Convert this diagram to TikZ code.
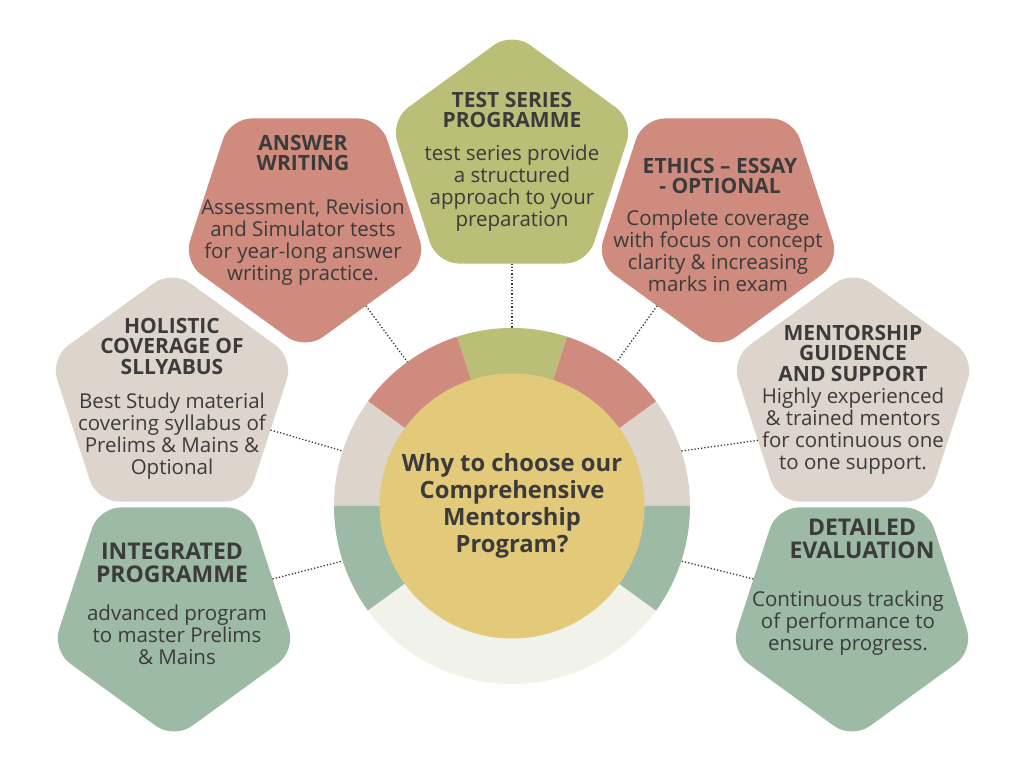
\documentclass[tikz,border=0pt]{standalone}
\usepackage{fontspec}
\setmainfont{Open Sans}
\usetikzlibrary{shapes.geometric, positioning}
\definecolor{olivec}{HTML}{BABE77}
\definecolor{rosec}{HTML}{CF8B7E}
\definecolor{sandc}{HTML}{DDD5CC}
\definecolor{sagec}{HTML}{9DBAA4}
\definecolor{palec}{HTML}{F1F2EA}
\definecolor{goldc}{HTML}{E3C97A}
\definecolor{inkc}{HTML}{3B3B3B}
\tikzstyle{pentagon} = [regular polygon, regular polygon sides=5, minimum size=256pt, inner sep=0pt, outer sep=0pt, rounded corners=22pt]
\tikzstyle{pentdown} = [pentagon, shape border rotate=180]
\tikzstyle{heading} = [text=inkc, font=\bfseries\fontsize{21}{20.5}\selectfont, align=center]
\tikzstyle{bigheading} = [text=inkc, font=\bfseries\fontsize{23}{23}\selectfont, align=center]
\tikzstyle{blurb} = [text=inkc, font=\fontsize{20.5}{22}\selectfont, align=center]
\tikzstyle{dotline} = [inkc, dotted, line width=1.3pt]

\begin{document}
\begin{tikzpicture}[x=1pt, y=1pt]
        \useasboundingbox[fill=white] (0,0) rectangle (1024,768);

        % Ring round the hub
        \coordinate (ctr) at (512,262);
        \foreach \a/\b/\c in {0/36/sandc, 36/72/rosec, 72/108/olivec, 108/144/rosec, 144/180/sandc, 180/216/sagec, 216/324/palec, 324/360/sagec}
            \fill[\c] (ctr) -- ++(\a:178pt) arc[start angle=\a, end angle=\b, radius=178pt] -- cycle;
        \foreach \a in {18,54,90,126,162,198,342}
            \path (ctr) ++(\a:178pt) coordinate (r\a);

        % Hub
        \node[circle, fill=goldc, minimum size=265pt, inner sep=0pt, text=inkc, font=\bfseries\fontsize{23.8}{27}\selectfont, align=center] (hub) at (ctr) {Why to choose our\\Comprehensive\\Mentorship\\Program?};

        % Test series
        \node[pentagon, fill=olivec] (testp) at (512,608) {};
        \node[heading] (testt) at (512,658) {TEST SERIES\\PROGRAMME};
        \node[blurb] (testb) at (512,580) {test series provide\\a structured\\approach to your\\preparation};

        % Answer writing
        \node[pentdown, fill=rosec] (answerp) at (305,546) {};
        \node[heading] (answert) at (303,615) {ANSWER\\WRITING};
        \node[blurb] (answerb) at (303,526) {Assessment, Revision\\and Simulator tests\\for year-long answer\\writing practice.};

        % Ethics
        \node[pentdown, fill=rosec] (ethicsp) at (718,546) {};
        \node[heading] (ethicst) at (720,592) {ETHICS -- ESSAY\\- OPTIONAL};
        \node[blurb] (ethicsb) at (718,517) {Complete coverage\\with focus on concept\\clarity \& increasing\\marks in exam};

        % Holistic
        \node[pentagon, fill=sandc] (holisticp) at (172,370) {};
        \node[heading] (holistict) at (172,422) {HOLISTIC\\COVERAGE OF\\SLLYABUS};
        \node[blurb] (holisticb) at (172,332) {Best Study material\\covering syllabus of\\Prelims \& Mains \&\\Optional};

        % Mentorship
        \node[pentagon, fill=sandc] (mentorp) at (853,370) {};
        \node[heading] (mentort) at (853,415) {MENTORSHIP\\GUIDENCE\\AND SUPPORT};
        \node[blurb] (mentorb) at (853,337) {Highly experienced\\\& trained mentors\\for continuous one\\to one support.};

        % Integrated
        \node[pentdown, fill=sagec] (integp) at (174,157) {};
        \node[bigheading] (integt) at (172,205) {INTEGRATED\\PROGRAMME};
        \node[blurb] (integb) at (177,133) {advanced program\\to master Prelims\\\& Mains};

        % Detailed evaluation
        \node[pentdown, fill=sagec] (detailp) at (852,157) {};
        \node[bigheading] (detailt) at (862,229) {DETAILED\\EVALUATION};
        \node[blurb] (detailb) at (848,145) {Continuous tracking\\of performance to\\ensure progress.};

        % Dotted links
        \draw[dotline] (testp.south) -- (r90);
        \draw[dotline] (answerp.-54) -- (r126);
        \draw[dotline] (ethicsp.234) -- (r54);
        \draw[dotline] (holisticp.-18) -- (r162);
        \draw[dotline] (mentorp.204) -- (r18);
        \draw[dotline] (integp.18) -- (r198);
        \draw[dotline] (detailp.162) -- (r342);
    \end{tikzpicture}
\end{document}
